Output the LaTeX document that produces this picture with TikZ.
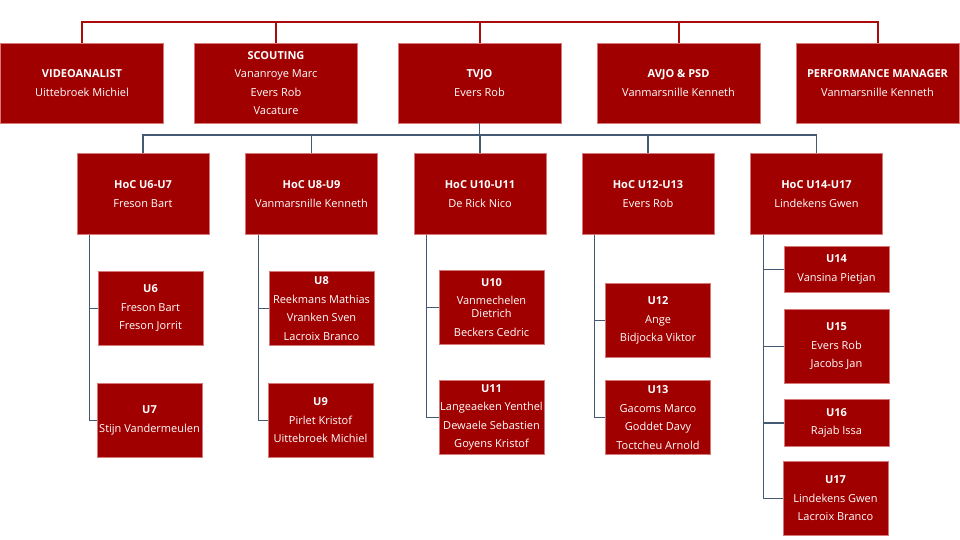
\documentclass[tikz,border=0pt]{standalone}
\usepackage{fontspec}
\setmainfont{Open Sans}
\definecolor{boxred}{RGB}{160,0,0}
\definecolor{boxedge}{RGB}{214,120,120}
\definecolor{topline}{RGB}{170,12,12}
\definecolor{slate}{RGB}{68,90,114}
\newcommand\boxfont{\fontsize{11}{13}\selectfont}
\tikzset{
  box/.style={rectangle, fill=boxred, draw=boxedge, line width=0.6pt, text=white,
    align=center, font=\boxfont, inner sep=0pt},
  topbox/.style={box, minimum width=163pt, minimum height=80pt},
  midbox/.style={box, minimum width=132pt, minimum height=81pt},
  leafbox/.style={box, minimum width=105pt, minimum height=74pt},
  redline/.style={draw=topline, line width=2pt},
  blueline/.style={draw=slate, line width=1.4pt},
}
\begin{document}
\begin{tikzpicture}[x=1pt,y=-1pt]
\useasboundingbox (0,0) rectangle (960,540);
% top row
\node[topbox] (va) at (82,83) {\textbf{VIDEOANALIST}\\[5.5pt]Uittebroek Michiel};
\node[topbox] (sc) at (276,83) {\textbf{SCOUTING}\\[5.5pt]Vananroye Marc\\[5.5pt]Evers Rob\\[5.5pt]Vacature};
\node[topbox] (tvjo) at (479.5,83) {\textbf{TVJO}\\[5.5pt]Evers Rob};
\node[topbox] (avjo) at (678.5,83) {\textbf{AVJO \& PSD}\\[5.5pt]Vanmarsnille Kenneth};
\node[topbox] (pm) at (877.5,83) {\textbf{PERFORMANCE MANAGER}\\[5.5pt]Vanmarsnille Kenneth};
% second row
\node[midbox] (h1) at (143,194) {\textbf{HoC U6-U7}\\[5.5pt]Freson Bart};
\node[midbox] (h2) at (311.5,194) {\textbf{HoC U8-U9}\\[5.5pt]Vanmarsnille Kenneth};
\node[midbox] (h3) at (480,194) {\textbf{HoC U10-U11}\\[5.5pt]De Rick Nico};
\node[midbox] (h4) at (648,194) {\textbf{HoC U12-U13}\\[5.5pt]Evers Rob};
\node[midbox] (h5) at (816.5,194) {\textbf{HoC U14-U17}\\[5.5pt]Lindekens Gwen};
% leaves
\node[leafbox] (u6) at (150.5,308.5) {\textbf{U6}\\[5.5pt]Freson Bart\\[5.5pt]Freson Jorrit};
\node[leafbox] (u7) at (149.5,420.5) {\textbf{U7}\\[5.5pt]Stijn Vandermeulen};
\node[leafbox] (u8) at (321.5,308.5) {\textbf{U8}\\[5.5pt]Reekmans Mathias\\[5.5pt]Vranken Sven\\[5.5pt]Lacroix Branco};
\node[leafbox] (u9) at (320.5,420.5) {\textbf{U9}\\[5.5pt]Pirlet Kristof\\[5.5pt]Uittebroek Michiel};
\node[leafbox] (u10) at (491.5,307.5) {\textbf{U10}\\[5.5pt]Vanmechelen\\Dietrich\\[5.5pt]Beckers Cedric};
\node[leafbox] (u11) at (491.5,417.5) {\textbf{U11}\\[5.5pt]Langeaeken Yenthel\\[5.5pt]Dewaele Sebastien\\[5.5pt]Goyens Kristof};
\node[leafbox] (u12) at (658,320.5) {\textbf{U12}\\[5.5pt]Ange\\[5.5pt]Bidjocka Viktor};
\node[leafbox] (u13) at (658,417.5) {\textbf{U13}\\[5.5pt]Gacoms Marco\\[5.5pt]Goddet Davy\\[5.5pt]Toctcheu Arnold};
\node[leafbox, minimum height=46pt] (u14) at (836.5,269.5) {\textbf{U14}\\[5.5pt]Vansina Pietjan};
\node[leafbox] (u15) at (836.5,346.5) {\textbf{U15}\\[5.5pt]Evers Rob\\[5.5pt]Jacobs Jan};
\node[leafbox, minimum height=47pt] (u16) at (836.5,423) {\textbf{U16}\\[5.5pt]Rajab Issa};
\node[leafbox] (u17) at (835.5,498.5) {\textbf{U17}\\[5.5pt]Lindekens Gwen\\[5.5pt]Lacroix Branco};
% top red connectors
\coordinate (tb) at (480,22);
\draw[redline] (va.north) -- (va.north |- tb) -- (pm.north |- tb) -- (pm.north);
\draw[redline] (sc.north) -- (sc.north |- tb);
\draw[redline] (tvjo.north) -- (tvjo.north |- tb);
\draw[redline] (avjo.north) -- (avjo.north |- tb);
% blue connectors to HoC
\coordinate (bb) at (480,135);
\draw[blueline] (tvjo.south) -- (tvjo.south |- bb);
\draw[blueline] (h1.north) -- (h1.north |- bb) -- (h5.north |- bb) -- (h5.north);
\draw[blueline] (h2.north) -- (h2.north |- bb);
\draw[blueline] (h3.north) -- (h3.north |- bb);
\draw[blueline] (h4.north) -- (h4.north |- bb);
% leaf connectors
\draw[blueline] ([xshift=13pt]h1.south west) |- (u7.west);
\draw[blueline] ([xshift=13pt]h1.south west) |- (u6.west);
\draw[blueline] ([xshift=13pt]h2.south west) |- (u9.west);
\draw[blueline] ([xshift=13pt]h2.south west) |- (u8.west);
\draw[blueline] ([xshift=13pt]h3.south west) |- (u11.west);
\draw[blueline] ([xshift=13pt]h3.south west) |- (u10.west);
\draw[blueline] ([xshift=13pt]h4.south west) |- (u13.west);
\draw[blueline] ([xshift=13pt]h4.south west) |- (u12.west);
\draw[blueline] ([xshift=13pt]h5.south west) |- (u17.west);
\draw[blueline] ([xshift=13pt]h5.south west) |- (u16.west);
\draw[blueline] ([xshift=13pt]h5.south west) |- (u15.west);
\draw[blueline] ([xshift=13pt]h5.south west) |- (u14.west);
\end{tikzpicture}
\end{document}
